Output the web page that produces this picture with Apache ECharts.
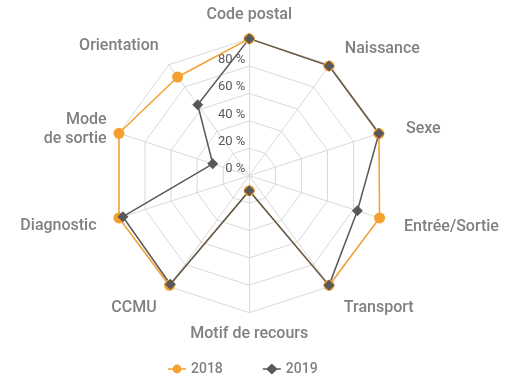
<!DOCTYPE html>
<html>
<head>
<meta charset="utf-8">
<script src="https://cdn.jsdelivr.net/npm/echarts@6/dist/echarts.min.js"></script>
<style>
  html, body { margin: 0; padding: 0; background: #fff; }
  #chart { width: 515px; height: 381px; }
</style>
</head>
<body>
<div id="chart"></div>
<script>
// axes, in the order ECharts draws them (counter-clockwise from the top)
var indicators = ['Code postal', 'Orientation', 'Mode\nde sortie', 'Diagnostic', 'CCMU',
  'Motif de recours', 'Transport', 'Entrée/Sortie', 'Sexe', 'Naissance']
var seriesNames = ['2018', '2019']
var values2018 = [100, 89, 100, 100, 99, 11, 99, 100, 99.5, 99]
var values2019 = [100, 64, 28, 97, 98, 11, 99, 83, 99.5, 99]
var tickValues = [0, 20, 40, 60, 80]

var center = ['48.4%', '46.1%']
var radius = 137
var grey = '#808080'
var orange = '#f5a02c'
var dark = '#595959'

// small nudges so the axis names sit where the original put them [top, right, bottom, left]
var namePads = [[0, 0, 4, 0], [0, 3, 19, 0], [0, 1, 0, 0], [8, 11, 0, 0], [23, 5, 0, 0],
  [0, 0, 0, 0], [23, 0, 0, 7], [10, 0, 0, 13], [0, 0, 2, 15], [0, 0, 13, 8]]

var nameFont = { color: grey, fontSize: 16, fontFamily: 'Roboto', fontWeight: 500, lineHeight: 19 }
var rich = {}
namePads.forEach(function (p, i) {
  rich['n' + i] = Object.assign({ padding: p }, nameFont)
})

// legend icons: a short line with the series marker on it
var iconCircle = 'path://M0,5.2H18V6.8H0Z M4.6,6A4.4,4.4 0 1 1 13.4,6A4.4,4.4 0 1 1 4.6,6Z'
var iconDiamond = 'path://M0,5.3H4L9,0.6L14,5.3H18V6.7H14L9,11.4L4,6.7H0Z'

var chart = echarts.init(document.getElementById('chart'))
chart.setOption({
  textStyle: { fontFamily: 'Roboto' },
  legend: {
    top: 362,
    left: 168,
    padding: 0,
    itemGap: 40,
    itemWidth: 18,
    itemHeight: 12,
    textStyle: { color: grey, fontSize: 14, fontFamily: 'Roboto', fontWeight: 500 },
    data: [
      { name: seriesNames[0], icon: iconCircle },
      { name: seriesNames[1], icon: iconDiamond }
    ]
  },
  radar: {
    center: center,
    radius: radius,
    shape: 'polygon',
    splitNumber: 5,
    indicator: indicators.map(function (n) { return { name: n, min: 0, max: 100 } }),
    axisName: Object.assign({
      rich: rich,
      formatter: function (name) {
        var i = indicators.indexOf(name)
        return name.split('\n').map(function (line) { return '{n' + i + '|' + line + '}' }).join('\n')
      }
    }, nameFont),
    nameGap: 12,
    axisLine: { lineStyle: { color: '#d9d9d9', width: 1 } },
    splitLine: { lineStyle: { color: '#d9d9d9', width: 1 } },
    splitArea: { show: false }
  },
  // polar only used to print the percent scale along the top axis
  polar: { center: center, radius: radius },
  angleAxis: { show: false, min: 0, max: 360 },
  radiusAxis: {
    min: 0,
    max: 100,
    interval: 20,
    axisLine: { show: false },
    axisTick: { show: false },
    splitLine: { show: false },
    axisLabel: {
      color: dark,
      fontSize: 13,
      margin: 4,
      align: 'right',
      verticalAlign: 'bottom',
      formatter: function (v) { return tickValues.indexOf(v) >= 0 ? v + ' %' : '' }
    }
  },
  series: [{
    type: 'radar',
    data: [{
      name: seriesNames[0],
      value: values2018,
      symbol: 'circle',
      symbolSize: 11,
      lineStyle: { color: orange, width: 1.5 },
      itemStyle: { color: orange }
    }, {
      name: seriesNames[1],
      value: values2019,
      symbol: 'diamond',
      symbolSize: 11,
      lineStyle: { color: dark, width: 1.5 },
      itemStyle: { color: dark }
    }]
  }]
})
</script>
</body>
</html>
